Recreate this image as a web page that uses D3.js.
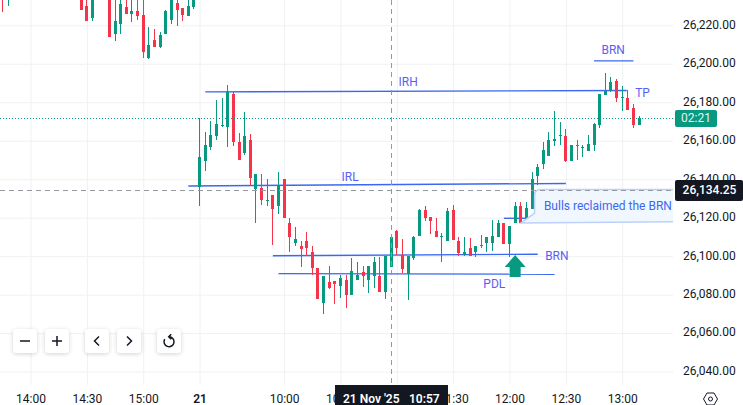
<!DOCTYPE html>
<html>
<head>
<meta charset="utf-8">
<script src="https://cdn.jsdelivr.net/npm/d3@7"></script>
<style>
  html, body { margin: 0; padding: 0; background: #fff; }
  svg { display: block; }
  text { font-family: Roboto, sans-serif; }
</style>
</head>
<body>
<div id="chart"></div>
<script>
// Bar slots: 0 is the 09:15 candle of the 21st, negative slots are the previous day (3 min bars)
const prevSlots = [-35,-34,-21,-20,-19,-16,-15,-14,-13,-12,-11,-10,-9,-8,-7,-6,-5,-4,-3,-2,-1];
const slots = prevSlots.concat(d3.range(79));

const opens = [
  26248,26238,26242,26230,26223.8,26245,26215.5,26220.7,26229.6,26225.9,26227.5,26225.4,26203,26212.4,26208.8,26215.5,26222.8,26231.6,26229,26224.9,26229.6,
  26136,26149.5,26156.8,26162.5,26167.7,26167.2,26184.3,26159.4,26153.6,26160.4,26134.9,26135.4,26128.7,26131.8,26126.1,26140.1,26117.2,26106.8,26105.3,26107.9,
  26102.2,26093.8,26075.6,26086.6,26087.1,26084.5,26087.6,26079.8,26087.6,26091.8,26087.6,26089.7,26089.7,26081.4,26094.4,26113.1,26100.6,26090.7,26099,26110.5,
  26124,26120.4,26113.1,26110,26107.9,26124,26107.9,26101.1,26104.2,26102.2,26105.8,26106.8,26106.8,26110,26117.2,26106.3,26117.2,26126.1,26119.8,26124.5,
  26141.7,26147.9,26152.1,26159.9,26162.5,26162.5,26149.5,26157.8,26156.2,26154.7,26157.8,26168.2,26183.8,26185.9,26191.1,26182.2,26182.2,26177,26168.2
];
const highs = [
  26250,26248,26246,26238,26240,26250,26238,26238,26236,26240,26236,26240,26219.2,26218.1,26216.6,26228,26238,26238,26229,26236,26238,
  26171.8,26164.6,26170.3,26181.2,26182.2,26189,26185.4,26164,26175,26163.5,26142.7,26142.7,26140.1,26131.8,26143.8,26140.1,26119.8,26115.2,26107.9,26112.6,
  26105.3,26093.8,26089.7,26094.9,26087.1,26090.2,26090.2,26099,26097,26094.9,26094.9,26099.6,26099.6,26100.1,26110.5,26113.6,26108.9,26100.1,26110.5,26124.5,
  26126.1,26120.4,26119.8,26112,26125,26126.6,26110,26110,26109.4,26105.3,26111,26110,26118.8,26118.8,26117.2,26115.7,26128.2,26128.2,26128.2,26143.8,
  26147.9,26159.4,26164.6,26175.5,26169.8,26166.1,26157.8,26160.4,26157.8,26163,26169.2,26184.3,26195.2,26193.2,26192.1,26188.5,26186.4,26179.1,26172.9
];
const lows = [
  26227,26230,26228,26222,26222.3,26214,26211.9,26215.5,26225.9,26221.8,26222.8,26203,26202.5,26208.8,26208.2,26215.5,26220.7,26219.7,26222.3,26224.9,26228.5,
  26126.1,26144.3,26155.2,26160.4,26167.2,26156.8,26157.3,26150,26152.6,26137,26117.2,26126.6,26126.1,26105.8,26121.9,26119.8,26102.2,26105.3,26094.4,26100.1,
  26090.2,26077.7,26069.9,26082.9,26075.1,26078.2,26073,26079.8,26087.6,26084,26080.8,26083.4,26081.4,26077.7,26094.4,26100.6,26091.2,26077.2,26098,26110.5,
  26118.3,26111.5,26110,26097,26107.9,26108.4,26100.1,26100.1,26100.1,26099.6,26104.2,26102.2,26102.7,26110,26106.3,26099.6,26117.2,26117.2,26118.3,26124.5,
  26137,26145.3,26152.1,26157.3,26157.8,26149,26149.5,26150,26151.6,26154.7,26154.7,26166.6,26183.8,26185.4,26180.2,26175.5,26176,26166.6,26168.2
];
const closes = [
  26240,26245,26228,26222.3,26238,26214,26222.3,26231.1,26225.9,26227.5,26224.9,26206.2,26209.8,26208.8,26215,26227.5,26236,26228,26225.4,26230,26236,
  26151.6,26157.8,26163,26168.7,26168.2,26185.4,26159.4,26150,26162.5,26140.6,26142.7,26129.2,26129.2,26124.5,26137,26119.8,26110,26108.9,26103.7,26104.2,
  26093.8,26077.7,26089.7,26083.4,26085.5,26088.6,26079.8,26092.3,26090.2,26089.7,26094.9,26097,26081.4,26100.1,26110,26104.2,26093.3,26100.1,26110,26124,
  26119.8,26118.3,26110,26110.5,26123.5,26108.4,26101.6,26102.2,26100.1,26105.3,26105.3,26110,26110.5,26117.2,26106.3,26115.7,26126.1,26117.2,26125,26140.1,
  26146.4,26155.2,26160.4,26160.9,26163,26149.5,26157.8,26157.3,26156.8,26158.3,26168.7,26184.3,26185.9,26190.6,26182.2,26182.8,26176,26168.2,26171.8
];

// Axis ticks
const priceTicks = [26220,26200,26180,26160,26140,26120,26100,26080,26060,26040];
const timeSlots = [-30,-20,-10,0,15,25,35,45,55,65,75];
const timeLabels = ["14:00","14:30","15:00","21","10:00","10:30","11:00","11:30","12:00","12:30","13:00"];

// Drawn trend lines, in bar slots and prices
const lineStartSlots  = [1,-2,13,14,70,54];
const lineEndSlots    = [75.8,65,60,63,77,58];
const lineStartPrices = [26185.4,26136.5,26100.2,26090.9,26201.5,26119.7];
const lineEndPrices   = [26186.1,26137.8,26101,26090.6,26201.5,26119.7];

// Text labels of the drawing
const labelTexts  = ["IRH","IRL","BRN","PDL","BRN","TP"];
const labelSlots  = [37,26.7,63.4,52.3,73.4,78.6];
const labelPrices = [26190.6,26140.9,26100,26085.5,26207,26184.8];

const lastPrice = 26171.8;
const countdown = "02:21";
const crossPrice = 26134.25;
const crossSlot = 34;
const crossDate = "21 Nov '25";
const crossTime = "10:57";
const arrowSlot = 56;
const arrowPrice = 26100.6;

function draw(container) {
  const width = 743;
  const height = 405;
  const plotRight = 673;
  const plotBottom = 385;
  const green = "#089981";
  const red = "#f5334a";
  const blue = "#3a68f0";
  const violet = "#5a5ef8";
  const dark = "#131722";

  const x = d3.scaleLinear().domain([0, 78]).range([199.6, 199.6 + 78 * 5.635]);
  const y = d3.scaleLinear().domain([26220, 26040]).range([25.3, 371.6]);

  const svg = d3.select(container).append("svg")
    .attr("width", width)
    .attr("height", height);

  const defs = svg.append("defs");
  defs.append("clipPath").attr("id", "plot")
    .append("rect").attr("width", plotRight).attr("height", plotBottom);
  defs.append("filter").attr("id", "btnshadow")
    .attr("x", "-30%").attr("y", "-30%").attr("width", "160%").attr("height", "170%")
    .append("feDropShadow")
    .attr("dx", 0).attr("dy", 1).attr("stdDeviation", 2)
    .attr("flood-color", "#000").attr("flood-opacity", 0.18);

  /* **************************************
   * Grid
   **************************************** */
  svg.append("g")
    .attr("transform", `translate(${plotRight},0)`)
    .call(d3.axisLeft(y).tickValues(priceTicks).tickSize(plotRight).tickFormat(""))
    .call(g => g.select(".domain").remove())
    .call(g => g.selectAll("line").attr("stroke", "#f0f1f3"));

  svg.append("g")
    .attr("transform", `translate(0,${plotBottom})`)
    .call(d3.axisTop(x).tickValues(timeSlots).tickSize(plotBottom).tickFormat(""))
    .call(g => g.select(".domain").remove())
    .call(g => g.selectAll("line").attr("stroke", "#f0f1f3"));

  const plot = svg.append("g").attr("clip-path", "url(#plot)");

  /* **************************************
   * Drawing lines, below the candles
   **************************************** */
  plot.append("g").selectAll("line")
    .data(lineStartSlots)
    .join("line")
      .attr("x1", d => x(d))
      .attr("x2", (d, i) => x(lineEndSlots[i]))
      .attr("y1", (d, i) => y(lineStartPrices[i]))
      .attr("y2", (d, i) => y(lineEndPrices[i]))
      .attr("stroke", blue)
      .attr("stroke-width", 1.4);

  /* **************************************
   * Candles
   **************************************** */
  const bars = plot.append("g").selectAll("g")
    .data(slots)
    .join("g")
      .attr("fill", (d, i) => closes[i] >= opens[i] ? green : red);

  bars.append("rect")
    .attr("x", d => Math.floor(x(d)))
    .attr("width", 1)
    .attr("y", (d, i) => Math.round(y(highs[i])))
    .attr("height", (d, i) => Math.max(1, Math.round(y(lows[i])) - Math.round(y(highs[i]))));

  bars.append("rect")
    .attr("x", d => Math.floor(x(d)) - 1)
    .attr("width", 3)
    .attr("y", (d, i) => Math.round(y(Math.max(opens[i], closes[i]))))
    .attr("height", (d, i) => Math.max(1, Math.round(y(Math.min(opens[i], closes[i]))) - Math.round(y(Math.max(opens[i], closes[i])))));

  /* **************************************
   * Callout
   **************************************** */
  const cl = x(59.45), cr = x(90), ct = y(26134.7), cb = y(26118);
  const cs = y(26122.4), tipX = x(57), tipY = y(26117.2);
  plot.append("path")
    .attr("d", `M${tipX},${tipY} L${cl},${cs} L${cl},${ct + 6} Q${cl},${ct} ${cl + 6},${ct} L${cr},${ct} L${cr},${cb} Z`)
    .attr("fill", "#f1f7ff")
    .attr("stroke", "#bcd0fb")
    .attr("stroke-width", 1.5);
  plot.append("text")
    .attr("x", x(61.1))
    .attr("y", y(26126.3))
    .attr("dominant-baseline", "central")
    .attr("font-size", 12)
    .attr("fill", "#3a68f0")
    .text("Bulls reclaimed the BRN");

  /* **************************************
   * Labels and arrow
   **************************************** */
  plot.append("g").selectAll("text")
    .data(labelTexts)
    .join("text")
      .attr("x", (d, i) => x(labelSlots[i]))
      .attr("y", (d, i) => y(labelPrices[i]))
      .attr("text-anchor", "middle")
      .attr("dominant-baseline", "central")
      .attr("font-size", 12)
      .attr("fill", violet)
      .text(d => d);

  plot.append("path")
    .attr("transform", `translate(${x(arrowSlot)},${y(arrowPrice)})`)
    .attr("d", "M0,0 L10.5,12 L5.5,12 L5.5,22 L-5.5,22 L-5.5,12 L-10.5,12 Z")
    .attr("fill", green);

  /* **************************************
   * Price line and crosshair
   **************************************** */
  plot.append("line")
    .attr("x2", plotRight)
    .attr("y1", Math.floor(y(lastPrice)) + 0.5)
    .attr("y2", Math.floor(y(lastPrice)) + 0.5)
    .attr("stroke", green)
    .attr("stroke-dasharray", "1,2");

  plot.append("line")
    .attr("x2", plotRight)
    .attr("y1", Math.floor(y(crossPrice)) + 0.5)
    .attr("y2", Math.floor(y(crossPrice)) + 0.5)
    .attr("stroke", "#9598a1")
    .attr("stroke-dasharray", "5,4");

  plot.append("line")
    .attr("x1", Math.floor(x(crossSlot)) + 0.5)
    .attr("x2", Math.floor(x(crossSlot)) + 0.5)
    .attr("y2", plotBottom)
    .attr("stroke", "#9598a1")
    .attr("stroke-dasharray", "5,4");

  /* **************************************
   * Axes
   **************************************** */
  svg.append("g")
    .attr("transform", "translate(683,-1)")
    .call(d3.axisRight(y).tickValues(priceTicks).tickSize(0).tickPadding(0).tickFormat(d3.format(",.2f")))
    .call(g => g.select(".domain").remove())
    .call(g => g.selectAll("text").attr("font-family", "Roboto, sans-serif").attr("font-size", 12).attr("fill", dark));

  svg.append("g")
    .attr("transform", `translate(0,${plotBottom})`)
    .call(d3.axisBottom(x).tickValues(timeSlots).tickSize(0).tickPadding(9.5).tickFormat((d, i) => timeLabels[i]))
    .call(g => g.select(".domain").remove())
    .call(g => g.selectAll("text")
        .attr("font-family", "Roboto, sans-serif")
        .attr("font-size", 12)
        .attr("fill", dark)
        .attr("font-weight", (d, i) => timeLabels[i] === "21" ? 600 : 400));

  // Axis tags
  svg.append("rect").attr("x", 675).attr("y", 110).attr("width", 42).attr("height", 17).attr("rx", 2).attr("fill", green);
  svg.append("text").attr("x", 696).attr("y", y(lastPrice))
    .attr("text-anchor", "middle").attr("dominant-baseline", "central")
    .attr("font-size", 12).attr("fill", "#e6f5f2")
    .text(countdown);

  svg.append("rect").attr("x", 675).attr("y", 180).attr("width", 68).attr("height", 21).attr("rx", 2).attr("fill", dark);
  svg.append("text").attr("x", 709.5).attr("y", y(crossPrice))
    .attr("text-anchor", "middle").attr("dominant-baseline", "central")
    .attr("font-size", 12).attr("font-weight", 500).attr("fill", "#fff")
    .text(d3.format(",.2f")(crossPrice));

  svg.append("rect").attr("x", 335).attr("y", plotBottom).attr("width", 113).attr("height", 20).attr("fill", dark);
  svg.append("text").attr("x", 343).attr("y", 403)
    .attr("font-size", 12).attr("font-weight", 600).attr("fill", "#fff")
    .text(crossDate);
  svg.append("text").attr("x", 409).attr("y", 403)
    .attr("font-size", 12).attr("font-weight", 600).attr("fill", "#fff")
    .text(crossTime);

  /* **************************************
   * Toolbar buttons and settings icon
   **************************************** */
  const icons = [
    "M-5,0 H5",
    "M-5,0 H5 M0,-5 V5",
    "M2,-4.5 L-2.5,0 L2,4.5",
    "M-2,-4.5 L2.5,0 L-2,4.5",
    "M0,-4.3 A5,5 0 1 1 -4.3,-1.8 M2.2,-6.8 L-0.3,-4.3 L2.2,-1.8"
  ];
  const buttonLefts = [13, 45, 85, 117, 157];
  const buttons = svg.append("g").selectAll("g")
    .data(icons)
    .join("g")
      .attr("transform", (d, i) => `translate(${buttonLefts[i]},329)`);
  buttons.append("rect")
    .attr("width", 24).attr("height", 24).attr("rx", 4)
    .attr("fill", "#fff")
    .attr("filter", "url(#btnshadow)");
  buttons.append("path")
    .attr("transform", "translate(12,12)")
    .attr("d", d => d)
    .attr("fill", "none")
    .attr("stroke", dark)
    .attr("stroke-width", 1.5);

  const gear = svg.append("g").attr("transform", "translate(710.5,399)");
  gear.append("path")
    .attr("d", "M-7,0 L-3.5,-6 H3.5 L7,0 L3.5,6 H-3.5 Z")
    .attr("fill", "none").attr("stroke", dark);
  gear.append("circle").attr("r", 2).attr("fill", "none").attr("stroke", dark);

  return svg.node();
}

draw("#chart");
</script>
</body>
</html>
